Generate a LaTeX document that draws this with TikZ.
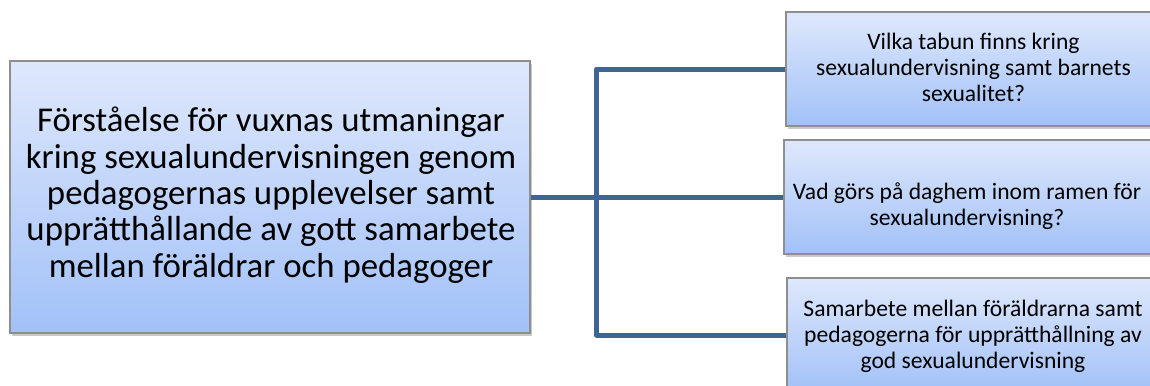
\documentclass[tikz,border=0pt]{standalone}
\usepackage{fontspec}
\setmainfont{Carlito}
\usetikzlibrary{shadows}
\definecolor{linecol}{HTML}{3E6596}
\definecolor{boxtop}{HTML}{DEE8FC}
\definecolor{boxbot}{HTML}{A2C1F8}
\definecolor{boxborder}{HTML}{8E8E8E}
\tikzset{
  box/.style={rectangle, draw=boxborder, line width=1.2bp, top color=boxtop, bottom color=boxbot,
    align=center, inner sep=0pt,
    drop shadow={shadow xshift=2bp, shadow yshift=-3bp, opacity=0.35, fill=black!60}},
  bigtext/.style={font=\fontsize{34.8bp}{36.3bp}\selectfont},
  smalltext/.style={font=\fontsize{23.6bp}{25.8bp}\selectfont},
  conn/.style={draw=linecol, line width=5bp, line join=round}
}
\begin{document}
\begin{tikzpicture}[x=1bp, y=-1bp]
\useasboundingbox (0,0) rectangle (1150,385);
\node[box, minimum width=520bp, minimum height=272bp] (L) at (270,197) {};
\node[bigtext, align=center, inner sep=0pt, anchor=base] (Lt) at (271,277)
  {Förståelse för vuxnas utmaningar\\kring sexualundervisningen genom\\pedagogernas upplevelser samt\\upprätthållande av gott samarbete\\mellan föräldrar och pedagoger};
\node[box, minimum width=374bp, minimum height=114bp] (B1) at (973,69) {};
\node[smalltext, align=center, inner sep=0pt, anchor=base] (B1t) at (973.5,101)
  {Vilka tabun finns kring\\sexualundervisning samt barnets\\sexualitet?};
\node[box, minimum width=374bp, minimum height=114bp] (B2) at (971,197) {};
\node[smalltext, align=center, inner sep=0pt, anchor=base] (B2t) at (967,225)
  {Vad görs på daghem inom ramen för\\sexualundervisning?};
\node[box, minimum width=374bp, minimum height=114bp] (B3) at (974,335) {};
\node[smalltext, align=center, inner sep=0pt, anchor=base] (B3t) at (973,368)
  {Samarbete mellan föräldrarna samt\\pedagogerna för upprätthållning av\\god sexualundervisning};
\coordinate (t1) at (596.5,69);
\coordinate (t3) at (596.5,335);
\draw[conn] (L.east) -- (B2.west);
\draw[conn] (B1.west) -- (t1) -- (t3) -- (B3.west);
\end{tikzpicture}
\end{document}
